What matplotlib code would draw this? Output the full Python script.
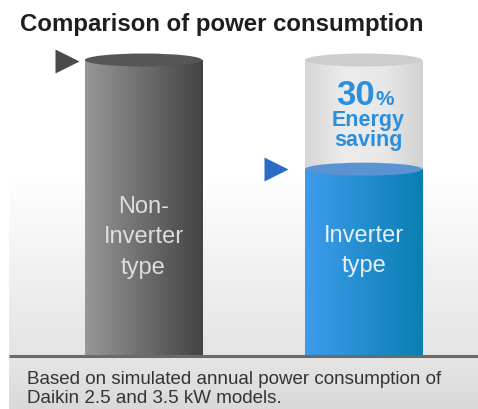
import numpy as np
import matplotlib
matplotlib.use("Agg")
import matplotlib.pyplot as plt
from matplotlib.colors import LinearSegmentedColormap
from matplotlib.patches import Ellipse

plt.rcParams["font.family"] = ["Liberation Sans", "DejaVu Sans"]

# Data (relative power consumption)
categories = ["Non-\nInverter\ntype", "Inverter\ntype"]
consumption = [100, 63]
reference = 100
saving_pct = "30"
saving_text = "Energy\nsaving"
title = "Comparison of power consumption"
note = "Based on simulated annual power consumption of\nDaikin 2.5 and 3.5 kW models."

W, H = 478, 410
fig = plt.figure(figsize=(W / 100, H / 100), dpi=100)

# background / decoration layer in pixel coordinates
bg = fig.add_axes([0, 0, 1, 1])
bg.set_xlim(0, W)
bg.set_ylim(H, 0)
bg.axis("off")
bg_cmap = LinearSegmentedColormap.from_list("bg", [(0, "#ffffff"), (0.5, "#ffffff"), (1, "#e4e4e4")])
bg.imshow(np.linspace(0, 1, 256)[:, None], cmap=bg_cmap, extent=(9, W, 356, 0), aspect="auto", zorder=0)
foot_cmap = LinearSegmentedColormap.from_list("ft", ["#e6e6e6", "#d9d9d9"])
bg.imshow(np.linspace(0, 1, 64)[:, None], cmap=foot_cmap, extent=(9, W, H, 356), aspect="auto", zorder=0)
bg.plot([9, W], [356.5, 356.5], color="#6a6a6a", lw=2.2, solid_capstyle="butt", zorder=5)
bg.text(20, 31, title, fontsize=17.3, fontweight="bold", color="#1e1e1e", va="baseline")
bg.text(27, 389, note, fontsize=13.5, color="#333333", va="center", linespacing=1.1)

# chart layer
ax = fig.add_axes([9 / W, 54 / H, 469 / W, 324.5 / H])
ax.patch.set_alpha(0)
ax.axis("off")

x = np.arange(len(categories))
width = 0.532
ell_h = 4.4


def cylinder(xc, bottom, top, c_left, c_right, c_top, z):
    rect = ax.bar(xc, top - bottom, bottom=bottom, width=width, color="none", zorder=z)[0]
    cmap = LinearSegmentedColormap.from_list("c", [c_left, c_right])
    im = ax.imshow(np.linspace(0, 1, 256)[None, :], cmap=cmap,
                   extent=(xc - width / 2, xc + width / 2, bottom, top),
                   aspect="auto", zorder=z)
    im.set_clip_path(rect)
    ax.add_patch(Ellipse((xc, top), width, ell_h, facecolor=c_top, edgecolor="none", zorder=z + 0.5))


# ghost cylinder showing the non-inverter level behind the inverter one
ghost = LinearSegmentedColormap.from_list("g", ["#d6d6d6", "#ececec", "#e8e8e8", "#d2d2d2"])
rect = ax.bar(x[1], reference - consumption[1], bottom=consumption[1], width=width, color="none", zorder=1)[0]
im = ax.imshow(np.linspace(0, 1, 256)[None, :], cmap=ghost,
               extent=(x[1] - width / 2, x[1] + width / 2, consumption[1], reference),
               aspect="auto", zorder=1)
im.set_clip_path(rect)
ax.add_patch(Ellipse((x[1], reference), width, ell_h, facecolor="#cdcdcd", edgecolor="none", zorder=1.5))

cylinder(x[0], 0, consumption[0], "#979797", "#434343", "#565656", 2)
cylinder(x[1], 0, consumption[1], "#3d9cec", "#0a7fb2", "#5a92d2", 2)

# level markers
ax.plot(x[0] - 0.348, consumption[0] - 0.5, marker=">", ms=17, color="#4a4a4a", mec="none", zorder=3)
ax.plot(x[1] - 0.398, consumption[1], marker=">", ms=17, color="#2a6cc6", mec="none", zorder=3)

# labels inside cylinders
ax.text(x[0], 40.3, categories[0], ha="center", va="center", fontsize=17,
        color="#dedede", linespacing=1.5, zorder=4)
ax.text(x[1], 35.6, categories[1], ha="center", va="center", fontsize=17,
        color="#e6f0fa", linespacing=1.5, zorder=4)

blue = "#2b8fdd"
ax.text(x[1] + 0.052, 85.1, saving_pct, ha="right", va="baseline", fontsize=25,
        fontweight="bold", color=blue, zorder=4)
ax.text(x[1] + 0.052, 85.1, "%", ha="left", va="baseline", fontsize=15,
        fontweight="bold", color=blue, zorder=4)
ax.text(x[1] + 0.02, 71.2, saving_text, ha="center", va="baseline", fontsize=15.5,
        fontweight="bold", color=blue, linespacing=0.95, zorder=4)

ax.set_xlim(-0.611, 1.520)
ax.set_ylim(0, 110)

fig.savefig("out.png", dpi=100)
